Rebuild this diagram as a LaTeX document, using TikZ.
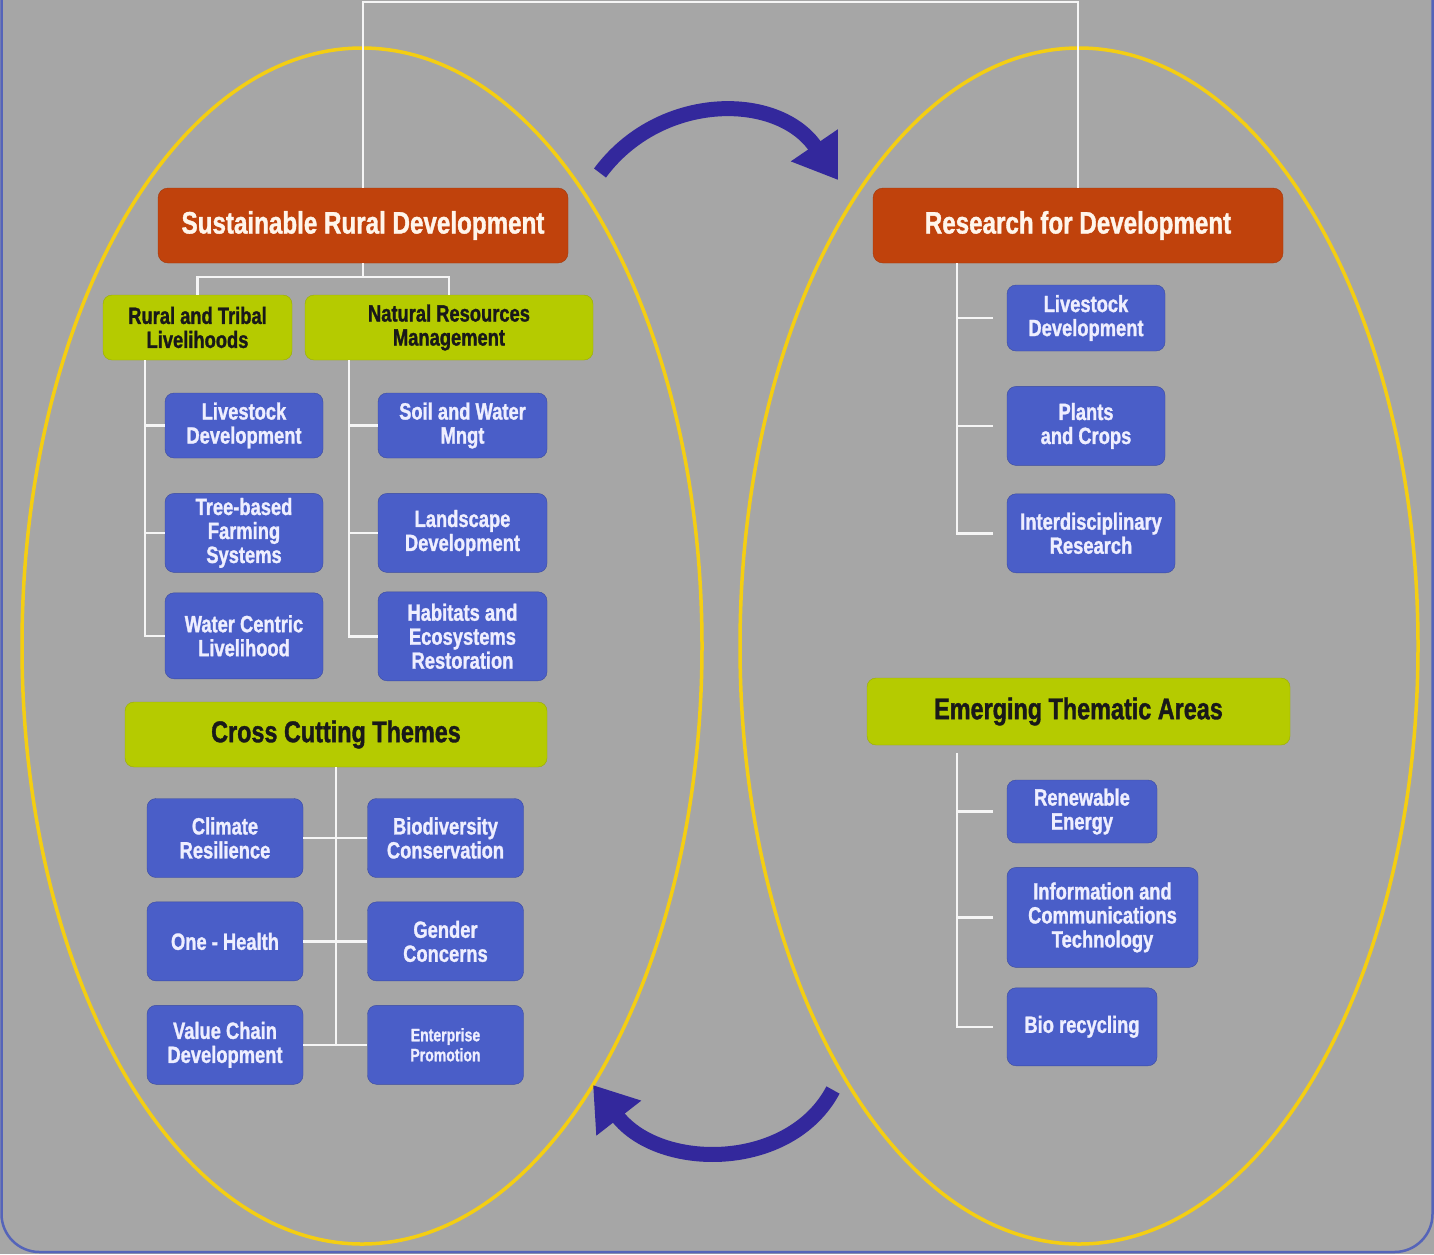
\documentclass[tikz,border=0pt]{standalone}
\usepackage{fontspec}
\usetikzlibrary{arrows.meta, positioning, calc}
\newfontfamily\diagfont{Liberation Sans}[FakeStretch=0.78, BoldFeatures={FakeBold=1.2}]
\definecolor{bggray}{RGB}{166,166,166}
\definecolor{frameblue}{RGB}{85,100,185}
\definecolor{ringyellow}{RGB}{244,206,18}
\definecolor{rootorange}{RGB}{192,66,12}
\definecolor{groupgreen}{RGB}{181,203,0}
\definecolor{itemblue}{RGB}{74,94,200}
\definecolor{arrowblue}{RGB}{51,40,156}
\definecolor{paletext}{RGB}{238,238,255}

\begin{document}
\begin{tikzpicture}[x=1pt, y=-1pt,
  rootbox/.style={rectangle, rounded corners=10pt, fill=rootorange, draw=rootorange!85!black,
    minimum width=410pt, minimum height=75pt, inner sep=0pt, align=center,
    text=orange!8, font=\diagfont\bfseries\fontsize{31}{33}\selectfont},
  groupbox/.style={rectangle, rounded corners=9pt, fill=groupgreen, draw=groupgreen!85!black,
    minimum height=65pt, inner sep=0pt, align=center,
    text=black!90, font=\diagfont\bfseries\fontsize{23.5}{24}\selectfont},
  bigbox/.style={groupbox, font=\diagfont\bfseries\fontsize{30}{32}\selectfont},
  itembox/.style={rectangle, rounded corners=9pt, fill=itemblue, draw=itemblue!80!black,
    minimum width=158pt, minimum height=65pt, inner sep=0pt, align=center,
    text=paletext, font=\diagfont\bfseries\fontsize{23.5}{24}\selectfont},
  link/.style={draw=white!92!gray, line width=2.5pt},
  ring/.style={draw=ringyellow, line width=3.5pt},
  cycle/.style={draw=arrowblue, line width=15pt, -{Triangle[length=42pt, width=54pt]}}
]
\useasboundingbox (0,0) rectangle (1434,1254);

% background and frame
\fill[bggray] (0,0) rectangle (1434,1254);
\draw[frameblue, line width=2.5pt, rounded corners=38pt] (1.5,-60) -- (1.5,1252) -- (1432.5,1252) -- (1432.5,-60);

% the two ellipses
\draw[ring] (362,646) ellipse [x radius=340pt, y radius=598pt];
\draw[ring] (1079,646) ellipse [x radius=339pt, y radius=598pt];

% main boxes
\node (srd) [rootbox] at (363,225.5) {Sustainable Rural Development};
\node (rfd) [rootbox] at (1078,225.5) {Research for Development};

% left: groups
\node (rtl) [groupbox, minimum width=189pt] at (197.5,327.5) {Rural and Tribal\\Livelihoods};
\node (nrm) [groupbox, minimum width=288pt] at (449,327.5) {Natural Resources\\Management};

% left: items under Rural and Tribal Livelihoods
\node (rl1) [itembox] at (244,425.5) {Livestock\\Development};
\node (rl2) [itembox, minimum height=79pt, below=35pt of rl1] {Tree-based\\Farming\\Systems};
\node (rl3) [itembox, minimum height=86pt, below=20pt of rl2] {Water Centric\\Livelihood};

% left: items under Natural Resources Management
\node (nr1) [itembox, minimum width=169pt] at (462.5,425.5) {Soil and Water\\Mngt};
\node (nr2) [itembox, minimum width=169pt, minimum height=79pt, below=35pt of nr1] {Landscape\\Development};
\node (nr3) [itembox, minimum width=169pt, minimum height=89pt, below=19pt of nr2] {Habitats and\\Ecosystems\\Restoration};

% cross cutting themes
\node (cct) [bigbox, minimum width=422pt] at (336,734.5) {Cross Cutting Themes};
\node (cc1) [itembox, minimum width=156pt, minimum height=79pt] at (225,838) {Climate\\Resilience};
\node (cc2) [itembox, minimum width=156pt, minimum height=79pt] at (445.5,838) {Biodiversity\\Conservation};
\node (cc3) [itembox, minimum width=156pt, minimum height=79pt, below=24pt of cc1] {One - Health};
\node (cc4) [itembox, minimum width=156pt, minimum height=79pt, below=24pt of cc2] {Gender\\Concerns};
\node (cc5) [itembox, minimum width=156pt, minimum height=79pt, below=24pt of cc3] {Value Chain\\Development};
\node (cc6) [itembox, minimum width=156pt, minimum height=79pt, below=24pt of cc4,
  font=\diagfont\bfseries\fontsize{18}{20}\selectfont] {Enterprise\\Promotion};

% right: research items
\node (rd1) [itembox, minimum height=66pt] at (1086,318) {Livestock\\Development};
\node (rd2) [itembox, minimum height=79pt, below=35pt of rd1] {Plants\\and Crops};
\node (rd3) [itembox, minimum width=168pt, minimum height=79pt, below=28pt of rd2.south west, anchor=north west] {Interdisciplinary\\Research};

% right: emerging thematic areas
\node (eta) [bigbox, minimum width=423pt, minimum height=67pt] at (1078.5,711.5) {Emerging Thematic Areas};
\node (et1) [itembox, minimum width=150pt, minimum height=63pt] at (1082,811.5) {Renewable\\Energy};
\node (et2) [itembox, minimum width=191pt, minimum height=100pt, below=24pt of et1.south west, anchor=north west] {Information and\\Communications\\Technology};
\node (et3) [itembox, minimum width=150pt, minimum height=78pt, below=20pt of et2.south west, anchor=north west] {Bio recycling};

% connectors
\draw [link] (srd.north) -- ++(0,-186) -| (rfd.north);
\draw [link] (srd.south) -- ++(0,14) coordinate (srdfork);
\draw [link] (rtl.north) |- (srdfork) -| (nrm.north);

\coordinate (rtlspine) at ([xshift=-52.5pt]rtl.south);
\draw [link] (rtlspine) |- (rl3.west);
\foreach \n in {rl1,rl2} \draw [link] (rtlspine |- \n.west) -- (\n.west);

\coordinate (nrmspine) at ([xshift=-100pt]nrm.south);
\draw [link] (nrmspine) |- (nr3.west);
\foreach \n in {nr1,nr2} \draw [link] (nrmspine |- \n.west) -- (\n.west);

\draw [link] (cct.south) -- (cct.south |- cc5.east);
\draw [link] (cc1.east) -- (cc2.west);
\draw [link] (cc3.east) -- (cc4.west);
\draw [link] (cc5.east) -- (cc6.west);

\coordinate (rfdspine) at ([xshift=-121pt]rfd.south);
\draw [link] (rfdspine) |- ([xshift=-14pt]rd3.west);
\foreach \n in {rd1,rd2} \draw [link] (rfdspine |- \n.west) -- ([xshift=-14pt]\n.west);

\coordinate (etaspine) at ([xshift=-121.5pt, yshift=-8pt]eta.south);
\draw [link] (etaspine) |- ([xshift=-14pt]et3.west);
\foreach \n in {et1,et2} \draw [link] (etaspine |- \n.west) -- ([xshift=-14pt]\n.west);

% cycle arrows
\draw [cycle] (600,173) .. controls (660,92) and (778,92) .. (838,180);
\draw [cycle] (833,1090) .. controls (790,1171) and (660,1171) .. (593,1085);

\end{tikzpicture}
\end{document}
